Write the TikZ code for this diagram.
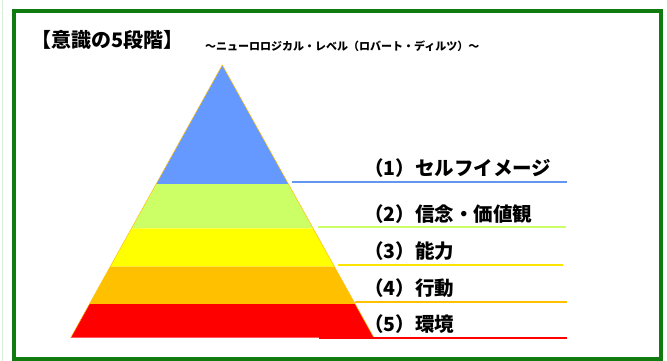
\documentclass[tikz,border=0pt]{standalone}
\usepackage{fontspec}
\setmainfont{Noto Sans CJK JP}
\newfontfamily\jpfont{Noto Sans CJK JP}
\definecolor{frame}{RGB}{16,124,16}
\definecolor{pale}{RGB}{214,240,214}
\definecolor{cblue}{RGB}{102,153,255}
\definecolor{clime}{RGB}{204,255,102}
\definecolor{cyel}{RGB}{255,255,0}
\definecolor{corange}{RGB}{255,192,0}
\definecolor{cred}{RGB}{255,0,0}
\definecolor{lblue}{RGB}{100,150,240}
\definecolor{lyel}{RGB}{250,230,0}
\tikzset{
  lbl/.style={anchor=west,inner sep=0pt,font=\jpfont\bfseries\fontsize{19.5}{22}\selectfont},
  leader/.style={line width=2pt},
}
\begin{document}
\begin{tikzpicture}[x=1pt,y=-1pt]
\useasboundingbox (0,0) rectangle (667,361);
\fill[white] (0,0) rectangle (667,361);
\draw[pale,line width=1.5pt] (2.5,0) -- (2.5,361);
\draw[frame,line width=4pt] (14.3,11) rectangle (661.3,358.7);
% title
\node[anchor=west,inner sep=0pt,font=\jpfont\bfseries\fontsize{20}{22}\selectfont] (title) at (31,40) {【意識の5段階】};
\node[anchor=west,inner sep=0pt,font=\jpfont\bfseries\fontsize{11}{13}\selectfont] (sub) at (205,46) {～ニューロロジカル・レベル（ロバート・ディルツ）～};
% pyramid
\coordinate (apex) at (222.3,65);
\coordinate (bl) at (70.7,337.7);
\coordinate (br) at (373.9,337.7);
\def\pyr#1#2#3{% y top, y bottom, colour
  \pgfmathsetmacro{\ta}{(#1-65)/272.7*151.6}
  \pgfmathsetmacro{\tb}{(#2-65)/272.7*151.6}
  \fill[#3] (222.3-\ta,#1) -- (222.3+\ta,#1) -- (222.3+\tb,#2) -- (222.3-\tb,#2) -- cycle;}
\pyr{65}{184}{cblue}
\pyr{184}{228.3}{clime}
\pyr{228.3}{266.7}{cyel}
\pyr{266.7}{304}{corange}
\pyr{304}{337.7}{cred}
\draw[corange,line width=0.5pt] (bl) -- (apex) -- (br);
% leader lines
\coordinate (b1) at (291.7,182.3); \coordinate (e1) at (566.7,182.3);
\coordinate (b2) at (318.3,227.3); \coordinate (e2) at (566,227.3);
\coordinate (b3) at (338.3,265);   \coordinate (e3) at (563,265);
\coordinate (b4) at (355,301.7);   \coordinate (e4) at (567,301.7);
\coordinate (b5) at (318.7,338.3); \coordinate (e5) at (567,338.3);
\draw[leader,lblue] (b1) -- (e1);
\draw[leader,clime] (b2) -- (e2);
\draw[leader,lyel] (b3) -- (e3);
\draw[leader,corange] (b4) -- (e4);
\draw[leader,cred] (b5) -- (e5);
% labels
\node[lbl] (l1) at (364,168) {（1）セルフイメージ};
\node[lbl] (l2) at (364,214) {（2）信念・価値観};
\node[lbl] (l3) at (364,251) {（3）能力};
\node[lbl] (l4) at (364,287.7) {（4）行動};
\node[lbl] (l5) at (364,323.7) {（5）環境};
\end{tikzpicture}
\end{document}
